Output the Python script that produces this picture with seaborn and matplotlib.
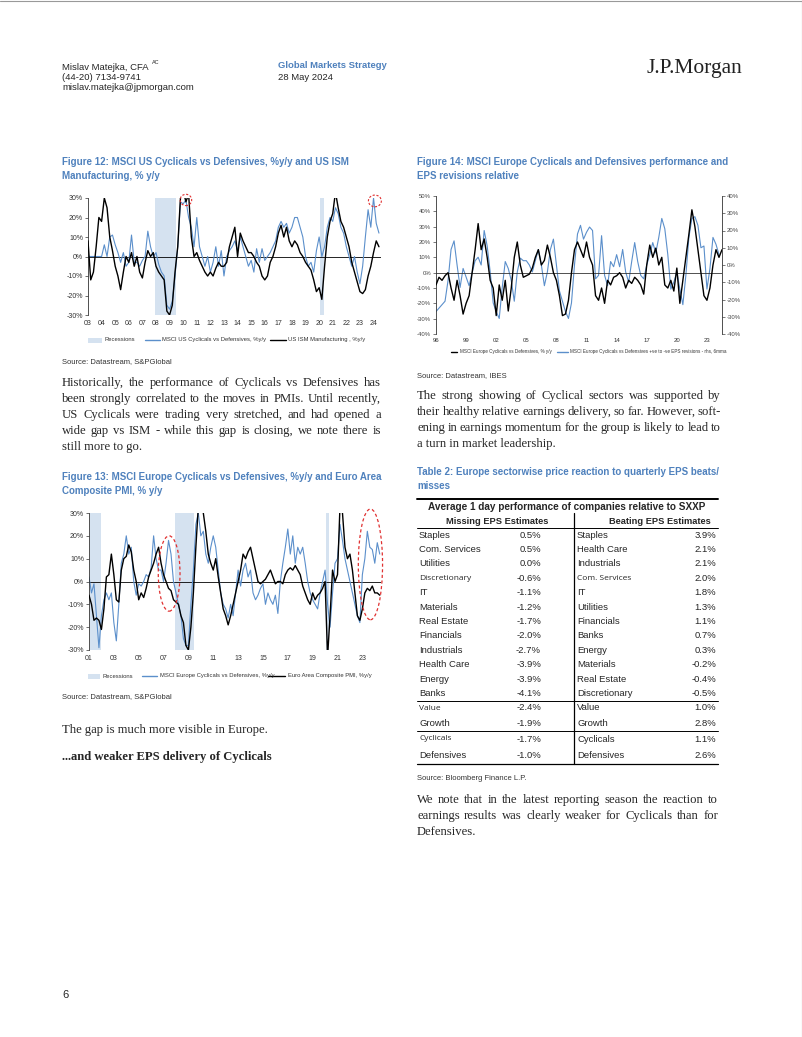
import numpy as np
import pandas as pd
import matplotlib
matplotlib.use("Agg")
import matplotlib.pyplot as plt
import seaborn as sns
from matplotlib.patches import Ellipse, Rectangle
from matplotlib.lines import Line2D

W, H = 802, 1037

# ---------------- data ----------------
# Figure 12: US, 0.2-year steps from 2003.0
us_start, us_step = 2003.0, 0.2
us_ism = [8, -12, -8, 5, 20,
          18, 30, 25, 10, 3,
          -5, -10, -17, -8, 0,
          -3, 2, -5, 0, -8,
          -11, -3, 3, 0, 2,
          -5, -8, -10, -12, -28,
          -30, -25, -8, 5, 30,
          34, 28, 32, 10, 0,
          2, -2, -5, -8, -10,
          -8, -10, -6, -3, -5,
          -5, -3, 5, 10, 15,
          0, 12, 8, 5, 2,
          2, 0, -3, -5, -10,
          -12, -10, -3, 0, 5,
          12, 16, 10, 15, 8,
          5, 8, 6, 2, 0,
          -3, -5, -7, -12, -18,
          -16, -22, -5, 10, 18,
          22, 33, 25, 18, 15,
          10, 5, -3, -8, -13,
          -18, -19, -17, -10, -5,
          2, 8, 5]
us_cyc_def = [0, 0, 0, 0, 0,
              0, 6, 0, 10, 11,
              6, 2, -3, 2, -5,
              -3, 11, -3, -3, -5,
              -2, 0, 13, 5, 0,
              2, -4, -8, -10, -25,
              -27, -23, -10, 5, 28,
              27, 29, 20, 15, 5,
              20, 5, 0, -5, 0,
              -8, -3, 5, -5, 3,
              -10, 0, 3, 5, 8,
              3, 10, 5, 0, -5,
              -2, -8, 4, -3, 4,
              -2, 0, 2, 5, 8,
              15, 18, 15, 17, 12,
              15, 20, 20, 15, 10,
              0, -5, -3, -8, 3,
              10, 0, 5, 15, 20,
              18, 25, 22, 15, 12,
              5, 0, -5, 0, -8,
              -14, -5, 10, 24, 15,
              30, 17, 12]
us_recessions = [(2007.95, 2009.5), (2020.1, 2020.35)]
us_circles = [(2010.2, 29, 0.85, 5.8), (2024.1, 28.5, 0.95, 6.0)]

# Figure 13: Europe, 0.2-year steps from 2001.0
eu_start, eu_step = 2001.0, 0.2
eu_pmi = [-6, -10, -17, -16, -17,
          -21, -12, 2, 3, 12,
          3, -8, -9, 5, 10,
          11, 16, 13, 5, 0,
          -8, -5, -7, -3, 2,
          5, 8, 12, 15, 8,
          3, 0, -3, -4, -8,
          -9, -10, -15, -18, -28,
          -30, -20, -5, 15, 33,
          33, 30, 22, 12, 8,
          5, 10, 2, -5, -12,
          -15, -19, -15, -10, -5,
          0, 5, 12, 10, 13,
          15, 10, 5, 0, -1,
          0, 1, 3, 5, 2,
          -1, 0, 0, -1, 3,
          5, 6, 5, 7, 5,
          3, -2, -5, -8, -10,
          -5, -8, -6, -5, -3,
          0, -33, -15, 5, 0,
          3, 33, 30, 15, 10,
          12, 5, -5, -15, -17,
          -12, -5, -3, -4, -2,
          -5, -5, -6]
eu_cyc_def = [2, -5, -1, -15, -29,
              -15, -8, -5, -8, -5,
              -18, -26, -10, 8, 12,
              20, 12, 15, 0, -6,
              -1, -2, 0, 3, 2,
              6, 20, 10, 5, 5,
              0, 8, 18, 12, 0,
              -5, -10, -15, -25, -28,
              -28, -10, 5, 25, 30,
              20, 22, 12, 8, 15,
              20, 15, 5, -5, -10,
              -12, -16, -10, -15, -5,
              5, -2, 5, 8, 2,
              5, -5, -8, -6, -3,
              -1, -10, -5, -8, -10,
              -6, -14, 0, 8, 15,
              23, 12, 20, 8, 15,
              12, 15, 8, 0, -5,
              -8, -10, -12, -5, 0,
              5, -10, -20, -5, 8,
              10, 25, 18, 10, 5,
              0, -5, -10, -15, -18,
              3, 10, 22, 15, 14,
              8, 17, 12]
eu_recessions = [(2001.05, 2001.95), (2007.9, 2009.45), (2020.1, 2020.35)]
eu_ellipses = [(2007.45, 3.5, 1.75, 33), (2023.65, 7.5, 1.95, 48.5)]

# Figure 14: 0.3-year steps from 1996.0
f14_start, f14_step = 1996.0, 0.3
f14_perf = [-8, -3, -5, -2, 0, -10, -18, -5, -15, -27,
            -20, -15, 0, 15, 32, 15, 22, 10, -5, -10,
            -28, -8, -18, -5, -25, -10, 10, 20, 5, -3,
            -2, -1, 3, 10, 15, 5, 8, 18, 10, 0,
            -5, -15, -28, -27, -18, 0, 15, 20,
            15, 10, 20, 10, 5, -15, -18, -10, -20, -5,
            -8, -3, -2, 0, -3, -10, -5, -7, -3, -5,
            -8, -14, 5, 18, 10, 16, 5, 10, -8, -10,
            -5, -12, 3, -20, -5, 10, 25, 41, 30, 15,
            0, -15, -18, -10, 5, 15, 10, 15]
f14_revisions = [-27, -25, -23, -21, -9, 9, 14, 0, -13, -2,
                 -7, -12, -4.5, 2.5, 4.5, 0, 20, 11, -4, -22,
                 -27, -31, -13, 2, -2, -9, -21, -4, 4, 2.5,
                 2.5, 0, -4, 2.5, 9, 0, -12, -4, 9, 15,
                 0, -15, -21, -27, -31, -22, 0,
                 18, 23, 15, 19, 22, 20, -8, -6, 17, -6,
                 -12, 2, -1, 6, -1, 9, -4, -10, 2, 13,
                 2, -6, -8, 0, 6, 13, 7, 16, 27, 21,
                 6, -14, -10, -4, -14, -23, -6, 16, 27, 28,
                 23, 10, 11, -14, -2, 16, 12, 6]

# Table 2
miss_names = ["Staples", "Com. Services", "Utilities", "Discretionary", "IT", "Materials",
              "Real Estate", "Financials", "Industrials", "Health Care", "Energy", "Banks",
              "Value", "Growth", "Cyclicals", "Defensives"]
miss_vals = ["0.5%", "0.5%", "0.0%", "-0.6%", "-1.1%", "-1.2%", "-1.7%", "-2.0%",
             "-2.7%", "-3.9%", "-3.9%", "-4.1%", "-2.4%", "-1.9%", "-1.7%", "-1.0%"]
beat_names = ["Staples", "Health Care", "Industrials", "Com. Services", "IT", "Utilities",
              "Financials", "Banks", "Energy", "Materials", "Real Estate", "Discretionary",
              "Value", "Growth", "Cyclicals", "Defensives"]
beat_vals = ["3.9%", "2.1%", "2.1%", "2.0%", "1.8%", "1.3%", "1.1%", "0.7%",
             "0.3%", "-0.2%", "-0.4%", "-0.5%", "1.0%", "2.8%", "1.1%", "2.6%"]
# rows typed in a different (smaller) font in the original table
miss_alt = {"Discretionary", "Value", "Cyclicals"}
beat_alt = {"Com. Services"}

# ---------------- style ----------------
sns.set_style("white")
plt.rcParams['font.family'] = ['Liberation Sans', 'DejaVu Sans']
plt.rcParams['axes.linewidth'] = 0.6

TITLE_BLUE = '#4f81bd'
LINE_BLUE = '#5b8fcb'
REC_COL = '#d5e2f0'
SERIF = ['Liberation Serif', 'DejaVu Serif']
TSIZE = 7.0
BODY = 9.1

fig = plt.figure(figsize=(W / 100, H / 100), dpi=100)
renderer = fig.canvas.get_renderer()


def fx(x):
    return x / W


def fy(y):
    return 1 - y / H


def txt(x, y, s, **kw):
    kw.setdefault('va', 'center')
    return fig.text(fx(x), fy(y), s, **kw)


def add_ax(l, t, r, b):
    return fig.add_axes([fx(l), fy(b), fx(r) - fx(l), fy(t) - fy(b)])


def series_df(start, step, vals):
    return pd.DataFrame({'t': start + step * np.arange(len(vals)), 'v': vals})


def width_px(s, **kw):
    t = fig.text(0, 0, s, **kw)
    w = t.get_window_extent(renderer).width
    t.remove()
    return w


def paragraph(x0, x1, y0, lines, step=16, size=BODY):
    # justified body text, last line left aligned
    kw = dict(fontsize=size, family=SERIF)
    for i, line in enumerate(lines):
        y = y0 + i * step
        words = line.split(' ')
        if i == len(lines) - 1 or len(words) == 1:
            txt(x0, y, line, **kw)
            continue
        extra = (x1 - x0 - width_px(line, **kw)) / (len(words) - 1)
        for k, w in enumerate(words):
            if k == 0:
                offset = 0
            else:
                offset = width_px(' '.join(words[:k + 1]), **kw) - width_px(w, **kw)
            txt(x0 + offset + k * extra, y, w, **kw)


def legend_row(y, items, size=4.2):
    # items: (kind, x0, x1, color, label)
    for kind, x0, x1, col, lab in items:
        if kind == 'patch':
            fig.add_artist(Rectangle((fx(x0), fy(y + 2.5)), fx(x1) - fx(x0), 5 / H,
                                     color=col, lw=0, transform=fig.transFigure))
        else:
            fig.add_artist(Line2D([fx(x0), fx(x1)], [fy(y), fy(y)], color=col,
                                  lw=1.0, transform=fig.transFigure))
        txt(x1 + 2.5, y, lab, fontsize=size, color='#333333')


def title(x, y, lines):
    for i, line in enumerate(lines):
        txt(x, y + i * 14, line, fontsize=TSIZE, fontweight='bold', color=TITLE_BLUE)


# ---------------- header ----------------
txt(62, 67, "Mislav Matejka, CFA", fontsize=6.8)
txt(152, 63, "AC", fontsize=4)
txt(62, 77, "(44-20) 7134-9741", fontsize=6.8)
txt(62, 87, "mislav.matejka@jpmorgan.com", fontsize=6.8)
txt(278, 66, "Global Markets Strategy", fontsize=6.8, color=TITLE_BLUE, fontweight='bold')
txt(278, 77, "28 May 2024", fontsize=6.8)
txt(742, 68, "J.P.Morgan", fontsize=15.5, family=SERIF, ha='right', color='#222222')


def cyc_chart(ax, start, step, blue, black, recs, xmin, xmax, years, ylims):
    for a, b in recs:
        ax.axvspan(a, b, color=REC_COL, lw=0, zorder=0)
    sns.lineplot(data=series_df(start, step, blue), x='t', y='v', ax=ax,
                 color=LINE_BLUE, lw=0.8, zorder=2)
    sns.lineplot(data=series_df(start, step, black), x='t', y='v', ax=ax,
                 color='black', lw=1.0, zorder=3)
    ax.axhline(0, color='black', lw=0.6, zorder=1)
    ax.set_xlim(xmin, xmax)
    ax.set_ylim(*ylims)
    ax.set_yticks(np.arange(ylims[0], ylims[1] + 1, 10))
    ax.set_yticklabels([f"{int(v)}%" for v in np.arange(ylims[0], ylims[1] + 1, 10)])
    ax.set_xticks(years)
    ax.set_xticklabels([f"{y % 100:02d}" for y in years])
    ax.tick_params(axis='x', length=0, pad=3.5, labelsize=5, colors='#333333')
    ax.tick_params(axis='y', length=2, width=0.5, pad=1.5, labelsize=5, colors='#333333',
                   left=True)
    ax.set_xlabel('')
    ax.set_ylabel('')
    for s in ['top', 'right', 'bottom']:
        ax.spines[s].set_visible(False)
    ax.spines['left'].set_color('#333333')
    ax.patch.set_alpha(0)


# ---------------- Figure 12 ----------------
title(62, 162, ["Figure 12: MSCI US Cyclicals vs Defensives, %y/y and US ISM",
                "Manufacturing, % y/y"])
ax12 = add_ax(88, 198, 381, 315)
cyc_chart(ax12, us_start, us_step, us_cyc_def, us_ism, us_recessions,
          2003.0, 2024.55, list(range(2003, 2025)), (-30, 30))
for cx, cy, w, h in us_circles:
    ax12.add_patch(Ellipse((cx, cy), w, h, fill=False, ec='#e03030', ls=(0, (2, 1.5)),
                           lw=0.8, clip_on=False, zorder=5))
legend_row(340, [('patch', 88, 102, REC_COL, "Recessions"),
                 ('line', 145, 160, LINE_BLUE, "MSCI US Cyclicals vs Defensives, %y/y"),
                 ('line', 270, 286, 'black', "US ISM Manufacturing , %y/y")])
txt(62, 362, "Source: Datastream, S&PGlobal", fontsize=5.5, color='#333333')

paragraph(62, 381, 383,
          ["Historically, the performance of Cyclicals vs Defensives has",
           "been strongly correlated to the moves in PMIs. Until recently,",
           "US Cyclicals were trading very stretched, and had opened a",
           "wide gap vs ISM - while this gap is closing, we note there is",
           "still more to go."])

# ---------------- Figure 13 ----------------
title(62, 477, ["Figure 13: MSCI Europe Cyclicals vs Defensives, %y/y and Euro Area",
                "Composite PMI, % y/y"])
ax13 = add_ax(89, 513, 381, 650)
cyc_chart(ax13, eu_start, eu_step, eu_cyc_def, eu_pmi, eu_recessions,
          2001.0, 2024.5, list(range(2001, 2024, 2)), (-30, 30))
for cx, cy, w, h in eu_ellipses:
    ax13.add_patch(Ellipse((cx, cy), w, h, fill=False, ec='#e03030', ls=(0, (2.5, 2)),
                           lw=0.9, clip_on=False, zorder=5))
legend_row(676, [('patch', 88, 100, REC_COL, "Recessions"),
                 ('line', 142, 157, LINE_BLUE, "MSCI Europe Cyclicals vs Defensives, %y/y"),
                 ('line', 268, 285, 'black', "Euro Area Composite PMI, %y/y")])
txt(62, 697, "Source: Datastream, S&PGlobal", fontsize=5.5, color='#333333')
txt(62, 730, "The gap is much more visible in Europe.", fontsize=BODY, family=SERIF)
txt(62, 757, "...and weaker EPS delivery of Cyclicals", fontsize=BODY, family=SERIF,
    fontweight='bold')

# ---------------- Figure 14 ----------------
title(417, 162, ["Figure 14: MSCI Europe Cyclicals and Defensives performance and",
                 "EPS revisions relative"])
ax14 = add_ax(436, 196, 722, 334)
ax14r = ax14.twinx()
sns.lineplot(data=series_df(f14_start, f14_step, f14_revisions), x='t', y='v', ax=ax14r,
             color=LINE_BLUE, lw=0.8)
sns.lineplot(data=series_df(f14_start, f14_step, f14_perf), x='t', y='v', ax=ax14,
             color='black', lw=1.0, zorder=3)
ax14.set_zorder(ax14r.get_zorder() + 1)
ax14.patch.set_alpha(0)
ax14.axhline(0, color='#333333', lw=0.6)
ax14.set_xlim(1996, 2024.5)
ax14.set_ylim(-40, 50)
ax14r.set_ylim(-40, 40)
ax14.set_yticks(np.arange(-40, 51, 10))
ax14.set_yticklabels([f"{v}%" for v in range(-40, 51, 10)])
ax14r.set_yticks(np.arange(-40, 41, 10))
ax14r.set_yticklabels([f"{v}%" for v in range(-40, 41, 10)])
f14_years = list(range(1996, 2024, 3))
ax14.set_xticks(f14_years)
ax14.set_xticklabels([f"{y % 100:02d}" for y in f14_years])
ax14.tick_params(axis='x', length=0, pad=3, labelsize=4.3, colors='#333333')
ax14.tick_params(axis='y', length=2, width=0.5, pad=1.5, labelsize=4.3, colors='#444444',
                 left=True)
ax14r.tick_params(axis='y', length=2, width=0.5, pad=1.5, labelsize=4.3, colors='#444444',
                  right=True)
for a in (ax14, ax14r):
    a.set_xlabel('')
    a.set_ylabel('')
    a.spines['top'].set_visible(False)
    a.spines['bottom'].set_visible(False)
ax14.spines['right'].set_visible(False)
ax14r.spines['left'].set_visible(False)
ax14.spines['left'].set_color('#333333')
ax14r.spines['right'].set_color('#333333')
legend_row(352, [('line', 451, 457, 'black', "MSCI Europe Cyclicals vs Defensives, % y/y"),
                 ('line', 557, 568, LINE_BLUE,
                  "MSCI Europe Cyclicals vs Defensives +ve to -ve EPS revisions - rhs, 6mma")],
           size=3.3)
txt(417, 376, "Source: Datastream, IBES", fontsize=5.5, color='#333333')

paragraph(417, 721, 396,
          ["The strong showing of Cyclical sectors was supported by",
           "their healthy relative earnings delivery, so far. However, soft-",
           "ening in earnings momentum for the group is likely to lead to",
           "a turn in market leadership."])

# ---------------- Table 2 ----------------
title(417, 472, ["Table 2: Europe sectorwise price reaction to quarterly EPS beats/",
                 "misses"])


def hline(y, x0=417, x1=718, lw=0.7):
    fig.add_artist(Line2D([fx(x0), fx(x1)], [fy(y), fy(y)], color='black', lw=lw,
                          transform=fig.transFigure))


hline(498.5, lw=1.4)
txt(567, 507, "Average 1 day performance of companies relative to SXXP", fontsize=7.2,
    fontweight='bold', ha='center')
txt(497, 521, "Missing EPS Estimates", fontsize=6.7, fontweight='bold', ha='center')
txt(660, 521, "Beating EPS Estimates", fontsize=6.7, fontweight='bold', ha='center')
hline(528)
fig.add_artist(Line2D([fx(574), fx(574)], [fy(513), fy(764)], color='black', lw=0.9,
                      transform=fig.transFigure))

row_y = [535 + i * 14.4 for i in range(12)] + [708, 723, 739, 756]
for i, yy in enumerate(row_y):
    mn, bn = miss_names[i], beat_names[i]
    txt(419, yy, mn, fontsize=6.0 if mn in miss_alt else 6.8,
        family=['Open Sans', 'DejaVu Sans'] if mn in miss_alt else None)
    txt(541, yy, miss_vals[i], fontsize=6.8, ha='right')
    txt(577, yy, bn, fontsize=6.0 if bn in beat_alt else 6.8,
        family=['Open Sans', 'DejaVu Sans'] if bn in beat_alt else None)
    txt(716, yy, beat_vals[i], fontsize=6.8, ha='right')
hline(700.5)
hline(731)
hline(764, lw=0.9)
txt(417, 778, "Source: Bloomberg Finance L.P.", fontsize=5.5, color='#333333')

paragraph(417, 718, 800,
          ["We note that in the latest reporting season the reaction to",
           "earnings results was clearly weaker for Cyclicals than for",
           "Defensives."])

txt(62, 995, "6", fontsize=8)

# page edge
fig.add_artist(Line2D([0, 1], [0.9995, 0.9995], color='#999999', lw=0.8,
                      transform=fig.transFigure))
fig.add_artist(Line2D([0.9994, 0.9994], [0, 1], color='#999999', lw=0.8,
                      transform=fig.transFigure))

fig.savefig("out.png", dpi=100)
